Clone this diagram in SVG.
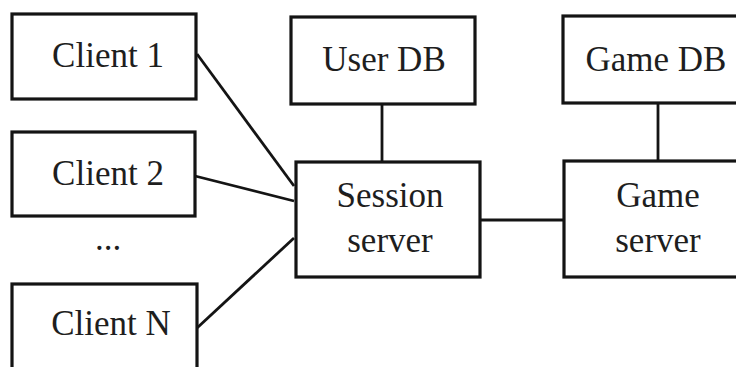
<svg xmlns="http://www.w3.org/2000/svg" width="736" height="367" viewBox="0 0 736 367">
  <style>
    .box { fill: #ffffff; stroke: #141414; stroke-width: 3.2; }
    .lbl { font-family: "Liberation Serif", "Times New Roman", serif; font-size: 35px; fill: #1e1e1e; text-anchor: middle; }
    .wire { stroke: #141414; stroke-width: 2.8; fill: none; stroke-linecap: butt; }
  </style>
  <rect width="736" height="367" fill="#ffffff"/>

  <!-- links between the parts -->
  <g id="connectors">
    <line class="wire" x1="197" y1="54" x2="294" y2="186"/>
    <line class="wire" x1="195" y1="176" x2="294" y2="201"/>
    <line class="wire" x1="197" y1="328" x2="294" y2="238"/>
    <line class="wire" x1="382" y1="104" x2="382" y2="162"/>
    <line class="wire" x1="658" y1="103" x2="658" y2="161"/>
    <line class="wire" x1="481" y1="220" x2="563" y2="220"/>
  </g>

  <g id="client1">
    <rect class="box" x="12" y="14" width="184" height="85"/>
    <text class="lbl" x="108" y="67">Client 1</text>
  </g>
  <g id="client2">
    <rect class="box" x="12" y="132" width="183" height="84"/>
    <text class="lbl" x="108" y="185">Client 2</text>
  </g>
  <g id="ellipsis">
    <text class="lbl" x="108" y="250">...</text>
  </g>
  <g id="clientN">
    <rect class="box" x="12" y="284" width="185" height="100"/>
    <text class="lbl" x="111" y="335">Client N</text>
  </g>
  <g id="userdb">
    <rect class="box" x="291" y="17" width="184" height="87"/>
    <text class="lbl" x="384" y="71">User DB</text>
  </g>
  <g id="gamedb">
    <rect class="box" x="563" y="16" width="192" height="87"/>
    <text class="lbl" x="656" y="71">Game DB</text>
  </g>
  <g id="session">
    <rect class="box" x="296" y="162" width="184" height="115"/>
    <text class="lbl" x="390" y="207">Session</text>
    <text class="lbl" x="390" y="252">server</text>
  </g>
  <g id="gameserver">
    <rect class="box" x="564" y="161" width="192" height="116"/>
    <text class="lbl" x="658" y="207">Game</text>
    <text class="lbl" x="658" y="252">server</text>
  </g>
</svg>
